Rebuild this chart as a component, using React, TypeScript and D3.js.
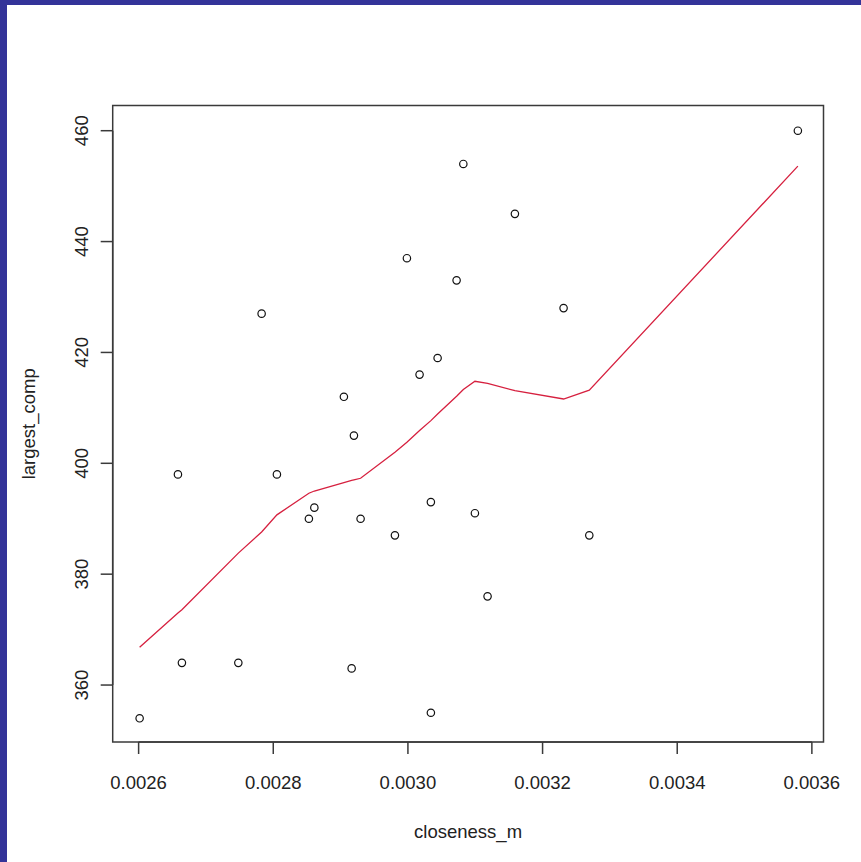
import React from "react";
import * as d3 from "d3";

const closeness = [
  0.0026015, 0.0026584, 0.0026643, 0.0027481, 0.0027827, 0.0028054, 0.0028529,
  0.002861, 0.0029049, 0.0029164, 0.0029198, 0.0029297, 0.0029807, 0.0029985,
  0.0030173, 0.0030341, 0.0030341, 0.0030441, 0.0030723, 0.0030823, 0.0030995,
  0.0031183, 0.0031589, 0.0032312, 0.0032694, 0.0035792,
];
const largestComp = [
  354, 398, 364, 364, 427, 398, 390, 392, 412, 363, 405, 390, 387, 437, 416,
  393, 355, 419, 433, 454, 391, 376, 445, 428, 387, 460,
];

const fitX = [
  0.0026015, 0.0026584, 0.0026643, 0.0027481, 0.0027827, 0.0028054, 0.0028529,
  0.002861, 0.0029049, 0.0029164, 0.0029198, 0.0029297, 0.0029807, 0.0029985,
  0.0030173, 0.0030341, 0.0030441, 0.0030723, 0.0030823, 0.0030995, 0.0031183,
  0.0031589, 0.0032312, 0.0032694, 0.0035792,
];
const fitY = [
  366.8, 373.0, 373.6, 383.8, 387.6, 390.7, 394.6, 395.0, 396.5, 396.9, 397.0,
  397.3, 402.0, 403.8, 405.9, 407.7, 408.9, 412.1, 413.3, 414.8, 414.4, 413.1,
  411.6, 413.2, 453.6,
];

const xTicks = [0.0026, 0.0028, 0.003, 0.0032, 0.0034, 0.0036];
const yTicks = [360, 380, 400, 420, 440, 460];
const xLabel = "closeness_m";
const yLabel = "largest_comp";

const W = 861;
const H = 862;
const box = { left: 112.7, right: 823.5, top: 105.5, bottom: 742 };
const font = "'Liberation Sans', Arial, sans-serif";
const axisColor = "#3a3a3a";
const fs = 18.5;

export default function App() {
  const [xmin, xmax] = d3.extent(closeness) as [number, number];
  const [ymin, ymax] = d3.extent(largestComp) as [number, number];
  const xr = xmax - xmin;
  const yr = ymax - ymin;
  const x = d3
    .scaleLinear()
    .domain([xmin - 0.04 * xr, xmax + 0.04 * xr])
    .range([113.3, 824.2]);
  const y = d3
    .scaleLinear()
    .domain([ymin - 0.04 * yr, ymax + 0.04 * yr])
    .range([741.8, 107.2]);

  const line = d3
    .line<number>()
    .x((_, i) => x(fitX[i]))
    .y((d) => y(d));

  const cx = (box.left + box.right) / 2;
  const cy = (box.top + box.bottom) / 2;

  return (
    <svg
      width={W}
      height={H}
      style={{ position: "absolute", left: 0, top: 0 }}
      fontFamily={font}
    >
      <rect x={0} y={0} width={W} height={H} fill="#333399" />
      <rect x={7} y={5} width={W - 7} height={H - 5} fill="#ffffff" />

      {/* red smooth line */}
      <path d={line(fitY) || ""} fill="none" stroke="#d6203f" strokeWidth={1.3} />

      {/* points */}
      {closeness.map((c, i) => (
        <circle
          key={i}
          cx={x(c)}
          cy={y(largestComp[i])}
          r={3.7}
          fill="none"
          stroke="#111"
          strokeWidth={1.2}
        />
      ))}

      {/* box */}
      <rect
        x={box.left}
        y={box.top}
        width={box.right - box.left}
        height={box.bottom - box.top}
        fill="none"
        stroke={axisColor}
        strokeWidth={1.5}
      />

      {/* x axis */}
      <line
        x1={x(xTicks[0])}
        x2={x(xTicks[xTicks.length - 1])}
        y1={box.bottom}
        y2={box.bottom}
        stroke={axisColor}
        strokeWidth={1.5}
      />
      {xTicks.map((t) => (
        <g key={t}>
          <line
            x1={x(t)}
            x2={x(t)}
            y1={box.bottom}
            y2={box.bottom + 12}
            stroke={axisColor}
            strokeWidth={1.5}
          />
          <text
            x={x(t)}
            y={788.5}
            textAnchor="middle"
            fontSize={fs}
            fill="#222"
          >
            {d3.format(".4f")(t)}
          </text>
        </g>
      ))}

      {/* y axis */}
      <line
        x1={box.left}
        x2={box.left}
        y1={y(yTicks[0])}
        y2={y(yTicks[yTicks.length - 1])}
        stroke={axisColor}
        strokeWidth={1.5}
      />
      {yTicks.map((t) => (
        <g key={t}>
          <line
            x1={box.left - 12}
            x2={box.left}
            y1={y(t)}
            y2={y(t)}
            stroke={axisColor}
            strokeWidth={1.5}
          />
          <text
            transform={`translate(87.5,${y(t)}) rotate(-90)`}
            textAnchor="middle"
            fontSize={fs}
            fill="#222"
          >
            {t}
          </text>
        </g>
      ))}

      {/* axis titles */}
      <text x={cx} y={838} textAnchor="middle" fontSize={fs} fill="#222">
        {xLabel}
      </text>
      <text
        transform={`translate(34.7,${cy}) rotate(-90)`}
        textAnchor="middle"
        fontSize={fs}
        fill="#222"
      >
        {yLabel}
      </text>
    </svg>
  );
}
